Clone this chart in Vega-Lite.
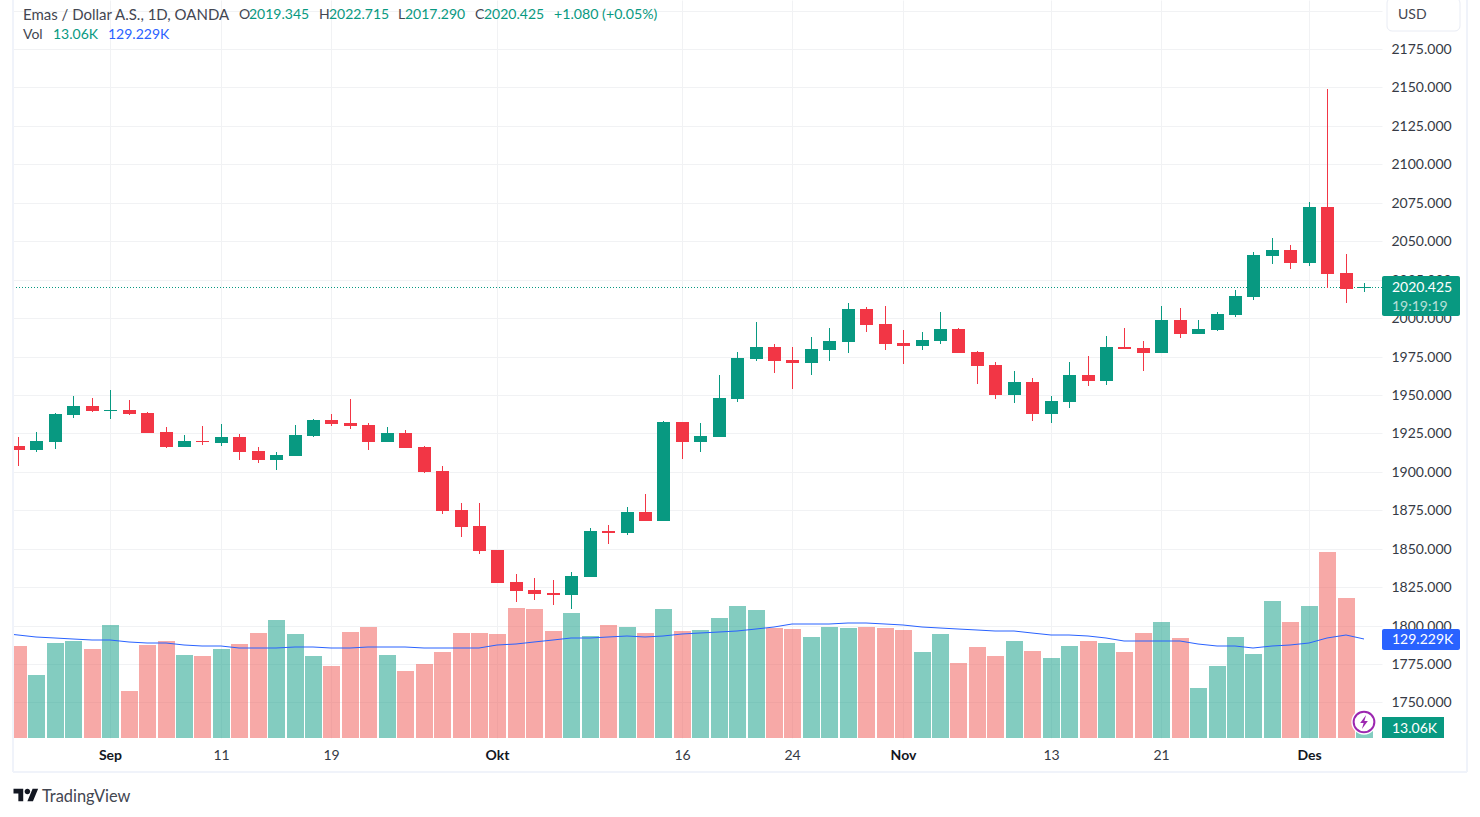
{
  "$schema": "https://vega.github.io/schema/vega-lite/v6.json",
  "width": 1369,
  "height": 738,
  "autosize": {"type": "none"},
  "padding": {"left": 13, "top": 0, "right": 98, "bottom": 79},
  "background": "#ffffff",
  "config": {
    "view": {"stroke": null},
    "text": {"font": "Lato", "fontSize": 14, "align": "left", "baseline": "middle", "dy": 1}
  },
  "datasets": {
    "one": [{"k": 1}],
    "candles": [
      {"n":-1,"date":"2023-08-24","ma":136.9},
      {"n":0,"date":"2023-08-25","open":1917.0,"high":1922.9,"low":1904.0,"close":1914.4,"vol":119.8,"ma":134.3},
      {"n":1,"date":"2023-08-28","open":1914.4,"high":1926.2,"low":1913.1,"close":1920.3,"vol":82.0,"ma":131.1},
      {"n":2,"date":"2023-08-29","open":1919.6,"high":1938.5,"low":1915.1,"close":1937.9,"vol":123.7,"ma":130.6},
      {"n":3,"date":"2023-08-30","open":1937.2,"high":1949.6,"low":1935.3,"close":1943.1,"vol":126.3,"ma":129.3},
      {"n":4,"date":"2023-08-31","open":1943.1,"high":1948.3,"low":1939.2,"close":1939.8,"vol":115.9,"ma":127.6},
      {"n":5,"date":"2023-09-01","open":1939.8,"high":1953.5,"low":1934.6,"close":1940.5,"vol":147.1,"ma":127.2},
      {"n":6,"date":"2023-09-04","open":1940.5,"high":1947.0,"low":1937.2,"close":1937.9,"vol":61.2,"ma":124.6},
      {"n":7,"date":"2023-09-05","open":1938.5,"high":1939.2,"low":1925.5,"close":1925.5,"vol":121.1,"ma":124.1},
      {"n":8,"date":"2023-09-06","open":1926.2,"high":1929.4,"low":1915.7,"close":1916.4,"vol":126.3,"ma":124.1},
      {"n":9,"date":"2023-09-07","open":1916.4,"high":1924.2,"low":1916.4,"close":1920.3,"vol":108.1,"ma":121.1},
      {"n":10,"date":"2023-09-08","open":1920.3,"high":1930.1,"low":1917.7,"close":1919.6,"vol":106.8,"ma":120.2},
      {"n":11,"date":"2023-09-11","open":1919.0,"high":1931.4,"low":1917.0,"close":1922.9,"vol":115.9,"ma":119.4},
      {"n":12,"date":"2023-09-12","open":1922.9,"high":1924.9,"low":1907.9,"close":1913.1,"vol":122.4,"ma":116.8},
      {"n":13,"date":"2023-09-13","open":1913.8,"high":1916.4,"low":1906.0,"close":1907.9,"vol":136.7,"ma":116.8},
      {"n":14,"date":"2023-09-14","open":1907.9,"high":1913.1,"low":1901.4,"close":1911.2,"vol":153.6,"ma":117.2},
      {"n":15,"date":"2023-09-15","open":1910.5,"high":1930.7,"low":1910.5,"close":1924.2,"vol":135.4,"ma":118.5},
      {"n":16,"date":"2023-09-18","open":1923.5,"high":1934.6,"low":1922.9,"close":1934.0,"vol":106.8,"ma":118.5},
      {"n":17,"date":"2023-09-19","open":1934.0,"high":1937.9,"low":1930.1,"close":1931.4,"vol":93.8,"ma":117.6},
      {"n":18,"date":"2023-09-20","open":1932.0,"high":1947.6,"low":1928.1,"close":1930.1,"vol":138.0,"ma":117.6},
      {"n":19,"date":"2023-09-21","open":1930.7,"high":1932.0,"low":1914.4,"close":1919.6,"vol":144.5,"ma":118.5},
      {"n":20,"date":"2023-09-22","open":1919.6,"high":1929.4,"low":1919.6,"close":1925.5,"vol":108.1,"ma":118.9},
      {"n":21,"date":"2023-09-25","open":1925.5,"high":1927.5,"low":1915.7,"close":1915.7,"vol":87.2,"ma":118.9},
      {"n":22,"date":"2023-09-26","open":1916.4,"high":1917.0,"low":1899.5,"close":1900.1,"vol":96.4,"ma":117.6},
      {"n":23,"date":"2023-09-27","open":1900.8,"high":1904.0,"low":1872.8,"close":1874.8,"vol":112.0,"ma":116.8},
      {"n":24,"date":"2023-09-28","open":1875.4,"high":1880.0,"low":1857.9,"close":1864.4,"vol":136.7,"ma":117.2},
      {"n":25,"date":"2023-09-29","open":1865.0,"high":1880.0,"low":1846.8,"close":1848.8,"vol":136.7,"ma":117.2},
      {"n":26,"date":"2023-10-02","open":1849.3,"high":1849.3,"low":1827.9,"close":1827.9,"vol":135.4,"ma":121.1},
      {"n":27,"date":"2023-10-03","open":1828.5,"high":1833.7,"low":1815.5,"close":1822.7,"vol":169.3,"ma":122.8},
      {"n":28,"date":"2023-10-04","open":1823.3,"high":1831.1,"low":1816.8,"close":1820.7,"vol":168.0,"ma":125.0},
      {"n":29,"date":"2023-10-05","open":1821.4,"high":1829.8,"low":1813.6,"close":1820.0,"vol":139.3,"ma":127.2},
      {"n":30,"date":"2023-10-06","open":1820.0,"high":1835.0,"low":1811.0,"close":1832.4,"vol":162.8,"ma":129.8},
      {"n":31,"date":"2023-10-09","open":1831.8,"high":1863.6,"low":1831.8,"close":1861.7,"vol":132.8,"ma":130.6},
      {"n":32,"date":"2023-10-10","open":1861.7,"high":1865.6,"low":1853.2,"close":1860.4,"vol":147.1,"ma":131.9},
      {"n":33,"date":"2023-10-11","open":1860.4,"high":1877.3,"low":1859.1,"close":1874.0,"vol":144.5,"ma":132.8},
      {"n":34,"date":"2023-10-12","open":1874.0,"high":1885.7,"low":1868.2,"close":1868.2,"vol":136.7,"ma":131.5},
      {"n":35,"date":"2023-10-13","open":1868.2,"high":1933.2,"low":1868.2,"close":1932.6,"vol":168.0,"ma":133.2},
      {"n":36,"date":"2023-10-16","open":1932.6,"high":1932.6,"low":1908.5,"close":1919.6,"vol":139.3,"ma":135.0},
      {"n":37,"date":"2023-10-17","open":1919.6,"high":1931.9,"low":1913.1,"close":1923.5,"vol":140.6,"ma":137.2},
      {"n":38,"date":"2023-10-18","open":1922.8,"high":1963.1,"low":1922.8,"close":1948.2,"vol":156.3,"ma":138.5},
      {"n":39,"date":"2023-10-19","open":1947.5,"high":1978.1,"low":1945.6,"close":1974.2,"vol":171.9,"ma":138.9},
      {"n":40,"date":"2023-10-20","open":1973.5,"high":1997.6,"low":1972.2,"close":1981.4,"vol":166.7,"ma":141.5},
      {"n":41,"date":"2023-10-23","open":1981.4,"high":1983.3,"low":1964.4,"close":1972.2,"vol":143.2,"ma":144.5},
      {"n":42,"date":"2023-10-24","open":1972.9,"high":1981.4,"low":1954.0,"close":1970.9,"vol":141.9,"ma":148.0},
      {"n":43,"date":"2023-10-25","open":1970.9,"high":1987.9,"low":1963.1,"close":1980.1,"vol":131.5,"ma":148.4},
      {"n":44,"date":"2023-10-26","open":1979.4,"high":1993.7,"low":1972.2,"close":1985.3,"vol":144.5,"ma":148.9},
      {"n":45,"date":"2023-10-27","open":1984.6,"high":2010.0,"low":1977.5,"close":2006.1,"vol":143.2,"ma":149.3},
      {"n":46,"date":"2023-10-30","open":2006.1,"high":2007.4,"low":1991.1,"close":1995.7,"vol":144.5,"ma":149.7},
      {"n":47,"date":"2023-10-31","open":1996.3,"high":2008.0,"low":1979.4,"close":1983.3,"vol":143.2,"ma":148.4},
      {"n":48,"date":"2023-11-01","open":1984.0,"high":1992.4,"low":1970.3,"close":1982.0,"vol":140.6,"ma":146.7},
      {"n":49,"date":"2023-11-02","open":1982.0,"high":1991.1,"low":1979.4,"close":1985.9,"vol":112.0,"ma":145.0},
      {"n":50,"date":"2023-11-03","open":1985.3,"high":2004.1,"low":1983.3,"close":1993.1,"vol":135.4,"ma":143.7},
      {"n":51,"date":"2023-11-06","open":1993.1,"high":1993.7,"low":1977.5,"close":1977.5,"vol":97.7,"ma":142.4},
      {"n":52,"date":"2023-11-07","open":1978.1,"high":1978.8,"low":1957.3,"close":1969.0,"vol":118.5,"ma":141.1},
      {"n":53,"date":"2023-11-08","open":1969.4,"high":1971.4,"low":1947.3,"close":1949.9,"vol":106.8,"ma":139.8},
      {"n":54,"date":"2023-11-09","open":1949.9,"high":1965.5,"low":1944.7,"close":1958.3,"vol":126.3,"ma":139.8},
      {"n":55,"date":"2023-11-10","open":1958.3,"high":1961.0,"low":1933.0,"close":1937.5,"vol":113.3,"ma":136.3},
      {"n":56,"date":"2023-11-13","open":1937.5,"high":1949.2,"low":1931.7,"close":1946.0,"vol":104.2,"ma":134.5},
      {"n":57,"date":"2023-11-14","open":1945.3,"high":1971.4,"low":1941.4,"close":1962.9,"vol":119.8,"ma":133.7},
      {"n":58,"date":"2023-11-15","open":1962.9,"high":1975.3,"low":1955.7,"close":1959.0,"vol":126.3,"ma":132.4},
      {"n":59,"date":"2023-11-16","open":1959.0,"high":1988.3,"low":1956.4,"close":1981.1,"vol":123.7,"ma":129.8},
      {"n":60,"date":"2023-11-17","open":1981.1,"high":1993.5,"low":1979.8,"close":1979.8,"vol":112.0,"ma":126.7},
      {"n":61,"date":"2023-11-20","open":1980.5,"high":1985.0,"low":1965.5,"close":1977.2,"vol":136.7,"ma":126.7},
      {"n":62,"date":"2023-11-21","open":1977.2,"high":2007.8,"low":1977.2,"close":1998.7,"vol":151.0,"ma":126.7},
      {"n":63,"date":"2023-11-22","open":1998.7,"high":2006.5,"low":1987.0,"close":1989.6,"vol":130.2,"ma":126.7},
      {"n":64,"date":"2023-11-23","open":1989.6,"high":1998.7,"low":1989.6,"close":1992.8,"vol":65.1,"ma":122.8},
      {"n":65,"date":"2023-11-24","open":1992.2,"high":2003.9,"low":1991.5,"close":2002.6,"vol":93.8,"ma":120.2},
      {"n":66,"date":"2023-11-27","open":2001.9,"high":2018.2,"low":2000.6,"close":2014.3,"vol":131.5,"ma":119.8},
      {"n":67,"date":"2023-11-28","open":2013.6,"high":2042.9,"low":2011.7,"close":2040.9,"vol":109.4,"ma":117.6},
      {"n":68,"date":"2023-11-29","open":2040.3,"high":2052.0,"low":2035.1,"close":2044.2,"vol":178.4,"ma":119.4},
      {"n":69,"date":"2023-11-30","open":2044.2,"high":2047.5,"low":2031.8,"close":2035.7,"vol":151.0,"ma":121.1},
      {"n":70,"date":"2023-12-01","open":2035.7,"high":2075.4,"low":2033.8,"close":2072.2,"vol":171.9,"ma":123.3},
      {"n":71,"date":"2023-12-04","open":2072.2,"high":2148.9,"low":2019.9,"close":2028.6,"vol":242.2,"ma":130.6},
      {"n":72,"date":"2023-12-05","open":2029.2,"high":2041.6,"low":2009.7,"close":2018.8,"vol":182.3,"ma":134.1},
      {"n":73,"date":"2023-12-06","open":2019.345,"high":2022.715,"low":2017.29,"close":2020.425,"vol":13.06,"ma":129.229}
    ]
  },
  "data": {"name": "one"},
  "layer": [
    {
      "layer": [
        {
          "data": {"name": "candles"},
          "mark": {"type": "bar", "size": 17, "orient": "vertical", "clip": true, "opacity": 0.5, "xOffset": 0.5},
          "encoding": {
            "x": {
              "field": "n",
              "type": "quantitative",
              "title": null,
              "scale": {"domain": [-0.271, 73.97], "round": true, "padding": 0, "nice": false, "zero": false},
              "axis": {
                "title": null,
                "values": [5, 11, 17, 26, 36, 42, 48, 56, 62, 70],
                "labelExpr": "{5:'Sep',11:'11',17:'19',26:'Okt',36:'16',42:'24',48:'Nov',56:'13',62:'21',70:'Des'}[datum.value]",
                "labelFont": "Lato",
                "labelFontSize": 14,
                "labelColor": {"condition": {"test": "indexof([5,26,48,70],datum.value)>=0", "value": "#131722"}, "value": "#363a45"},
                "labelFontWeight": {"condition": {"test": "indexof([5,26,48,70],datum.value)>=0", "value": "bold"}, "value": "normal"},
                "labelPadding": 10,
                "labelOverlap": false,
                "ticks": false,
                "domain": false,
                "grid": true,
                "gridColor": "#f1f2f4",
                "gridWidth": 1
              }
            },
            "y": {
              "field": "vol",
              "type": "quantitative",
              "stack": null,
              "scale": {"domain": [0, 960.9], "round": true, "nice": false},
              "axis": null
            },
            "color": {"condition": {"test": "datum.close >= datum.open", "value": "#089981"}, "value": "#ef5350"}
          }
        },
        {
          "data": {"name": "candles"},
          "mark": {"type": "line", "color": "#2962FF", "strokeWidth": 1, "interpolate": "linear", "clip": true},
          "encoding": {
            "x": {"field": "n", "type": "quantitative"},
            "y": {"field": "ma", "type": "quantitative", "axis": null}
          }
        },
        {
          "mark": {"type": "rect", "color": "#2962FF", "cornerRadius": 2},
          "encoding": {
            "x": {"datum": 73.97},
            "x2": {"datum": 78.22},
            "y": {"datum": 141.9, "axis": null},
            "y2": {"datum": 114.6}
          }
        },
        {
          "mark": {"type": "text", "text": "129.229K", "color": "#ffffff"},
          "encoding": {"x": {"datum": 74.51}, "y": {"datum": 129.229, "axis": null}}
        },
        {
          "mark": {"type": "rect", "color": "#089981"},
          "encoding": {
            "x": {"datum": 73.97},
            "x2": {"datum": 77.33},
            "y": {"datum": 27.3, "axis": null},
            "y2": {"datum": 0}
          }
        },
        {
          "mark": {"type": "text", "text": "13.06K", "color": "#ffffff"},
          "encoding": {"x": {"datum": 74.51}, "y": {"datum": 13.06, "axis": null}}
        },
        {
          "mark": {"type": "point", "shape": "circle", "filled": true, "size": 640, "color": "#ffffff", "opacity": 1},
          "encoding": {"x": {"datum": 73}, "y": {"datum": 21.2, "axis": null}}
        },
        {
          "mark": {"type": "point", "shape": "circle", "filled": false, "size": 430, "color": "#9c27b0", "strokeWidth": 2, "opacity": 1},
          "encoding": {"x": {"datum": 73}, "y": {"datum": 21.2, "axis": null}}
        },
        {
          "mark": {"type": "point", "shape": "M.3,-1L-.55,.15L-.05,.15L-.3,1L.55,-.15L.05,-.15Z", "filled": true, "size": 196, "color": "#9c27b0", "opacity": 1},
          "encoding": {"x": {"datum": 73}, "y": {"datum": 21.2, "axis": null}}
        }
      ]
    },
    {
      "layer": [
        {
          "mark": {"type": "rule", "color": "#089981", "strokeWidth": 1, "strokeDash": [1, 2], "yOffset": 0.5},
          "encoding": {"x": {"datum": -0.271}, "x2": {"datum": 73.97}, "y": {"datum": 2020.425}}
        },
        {
          "data": {"name": "candles"},
          "mark": {"type": "rule", "strokeWidth": 1, "clip": true, "xOffset": 0.5},
          "encoding": {
            "x": {"field": "n", "type": "quantitative"},
            "y": {
              "field": "low",
              "type": "quantitative",
              "title": null,
              "scale": {"domain": [1726.9, 2206.9], "round": true, "nice": false, "zero": false},
              "axis": {
                "title": null,
                "orient": "right",
                "values": [1750, 1775, 1800, 1825, 1850, 1875, 1900, 1925, 1950, 1975, 2000, 2025, 2050, 2075, 2100, 2125, 2150, 2175, 2200],
                "labelExpr": "datum.value == 2200 ? '' : format(datum.value, '.3f')",
                "labelFont": "Lato",
                "labelFontSize": 14,
                "labelColor": "#363a45",
                "labelPadding": 9,
                "labelOffset": 0.5,
                "labelOverlap": false,
                "labelBound": false,
                "labelFlush": false,
                "ticks": false,
                "domain": false,
                "grid": true,
                "gridColor": "#f1f2f4",
                "gridWidth": 1
              }
            },
            "y2": {"field": "high"},
            "color": {"condition": {"test": "datum.close >= datum.open", "value": "#089981"}, "value": "#F23645"}
          }
        },
        {
          "data": {"name": "candles"},
          "mark": {"type": "bar", "size": 13, "orient": "vertical", "clip": true, "xOffset": 0.5},
          "encoding": {
            "x": {"field": "n", "type": "quantitative"},
            "y": {"field": "open", "type": "quantitative"},
            "y2": {"field": "close"},
            "color": {"condition": {"test": "datum.close >= datum.open", "value": "#089981"}, "value": "#F23645"}
          }
        },
        {
          "mark": {"type": "rect", "color": "#089981", "cornerRadius": 2},
          "encoding": {"x": {"datum": 73.97}, "x2": {"datum": 78.22}, "y": {"datum": 2027.4}, "y2": {"datum": 2001.4}}
        },
        {
          "mark": {"type": "text", "text": "2020.425", "color": "#ffffff"},
          "encoding": {"x": {"datum": 74.51}, "y": {"datum": 2020.425}}
        },
        {
          "mark": {"type": "text", "text": "19:19:19", "color": "#ffffff", "opacity": 0.7},
          "encoding": {"x": {"datum": 74.51}, "y": {"datum": 2007.9}}
        },
        {
          "mark": {"type": "rect", "fill": "#ffffff", "stroke": "#e9ecf4", "strokeWidth": 1, "cornerRadius": 5},
          "encoding": {"x": {"datum": 74.22}, "x2": {"datum": 78.22}, "y": {"datum": 2208.2}, "y2": {"datum": 2186.7}}
        },
        {
          "mark": {"type": "text", "text": "USD", "color": "#434651"},
          "encoding": {"x": {"datum": 74.82}, "y": {"datum": 2197.8}}
        },
        {
          "mark": {"type": "rule", "color": "#f0f3fa", "strokeWidth": 2},
          "encoding": {"x": {"datum": -0.271}, "y": {"datum": 2206.9}, "y2": {"datum": 1704.8}}
        },
        {
          "mark": {"type": "rule", "color": "#f0f3fa", "strokeWidth": 2},
          "encoding": {"x": {"datum": 78.58}, "y": {"datum": 2206.9}, "y2": {"datum": 1704.8}}
        },
        {
          "mark": {"type": "rule", "color": "#f0f3fa", "strokeWidth": 2},
          "encoding": {"x": {"datum": -0.271}, "x2": {"datum": 78.58}, "y": {"datum": 1704.8}}
        },
        {
          "mark": {"type": "text", "text": "Emas / Dollar A.S., 1D, OANDA", "color": "#434651", "fontSize": 15},
          "encoding": {"x": {"datum": 0.27}, "y": {"datum": 2197.8}}
        },
        {
          "mark": {"type": "text", "text": "O", "color": "#434651"},
          "encoding": {"x": {"datum": 11.98}, "y": {"datum": 2197.8}}
        },
        {
          "mark": {"type": "text", "text": "2019.345", "color": "#089981"},
          "encoding": {"x": {"datum": 12.53}, "y": {"datum": 2197.8}}
        },
        {
          "mark": {"type": "text", "text": "H", "color": "#434651"},
          "encoding": {"x": {"datum": 16.32}, "y": {"datum": 2197.8}}
        },
        {
          "mark": {"type": "text", "text": "2022.715", "color": "#089981"},
          "encoding": {"x": {"datum": 16.87}, "y": {"datum": 2197.8}}
        },
        {
          "mark": {"type": "text", "text": "L", "color": "#434651"},
          "encoding": {"x": {"datum": 20.61}, "y": {"datum": 2197.8}}
        },
        {
          "mark": {"type": "text", "text": "2017.290", "color": "#089981"},
          "encoding": {"x": {"datum": 20.99}, "y": {"datum": 2197.8}}
        },
        {
          "mark": {"type": "text", "text": "C", "color": "#434651"},
          "encoding": {"x": {"datum": 24.78}, "y": {"datum": 2197.8}}
        },
        {
          "mark": {"type": "text", "text": "2020.425", "color": "#089981"},
          "encoding": {"x": {"datum": 25.27}, "y": {"datum": 2197.8}}
        },
        {
          "mark": {"type": "text", "text": "+1.080 (+0.05%)", "color": "#089981", "fontSize": 14.2},
          "encoding": {"x": {"datum": 29.07}, "y": {"datum": 2197.8}}
        },
        {
          "mark": {"type": "text", "text": "Vol", "color": "#434651"},
          "encoding": {"x": {"datum": 0.27}, "y": {"datum": 2184.8}}
        },
        {
          "mark": {"type": "text", "text": "13.06K", "color": "#089981"},
          "encoding": {"x": {"datum": 1.9}, "y": {"datum": 2184.8}}
        },
        {
          "mark": {"type": "text", "text": "129.229K", "color": "#2962FF"},
          "encoding": {"x": {"datum": 4.86}, "y": {"datum": 2184.8}}
        },
        {
          "mark": {"type": "point", "shape": "M-.222,.5L-.611,.5L-.611,-.111L-1,-.111L-1,-.5L-.222,-.5ZM.556,.5L.111,.5L.528,-.5L.972,-.5ZM-.111,-.278a.222,.222 0 1,0 .444,0a.222,.222 0 1,0 -.444,0Z", "filled": true, "size": 625, "color": "#131722", "opacity": 1},
          "encoding": {"x": {"datum": 0.407}, "y": {"datum": 1689.8}}
        },
        {
          "mark": {"type": "text", "text": "TradingView", "color": "#434651", "fontSize": 16.4},
          "encoding": {"x": {"datum": 1.3}, "y": {"datum": 1689.2}}
        }
      ]
    }
  ],
  "resolve": {"scale": {"y": "independent"}}
}
